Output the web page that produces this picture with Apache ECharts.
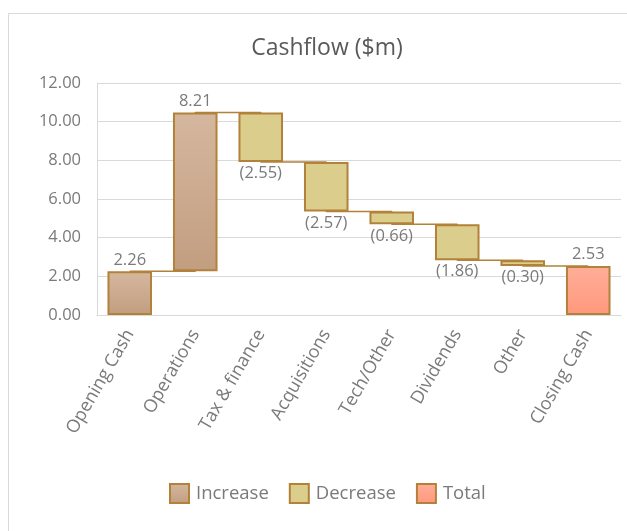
<!DOCTYPE html>
<html>
<head>
<meta charset="utf-8">
<script src="https://cdn.jsdelivr.net/npm/echarts@6/dist/echarts.min.js"></script>
<style>
  html, body { margin: 0; padding: 0; background: #fff; }
  #chart { width: 627px; height: 531px; }
</style>
</head>
<body>
<div id="chart"></div>
<script>
// 瀑布图数据
const categories = ['Opening Cash', 'Operations', 'Tax & finance', 'Acquisitions', 'Tech/Other', 'Dividends', 'Other', 'Closing Cash'];
const changes = [2.26, 8.21, -2.55, -2.57, -0.66, -1.86, -0.30, 2.53];
const kinds = ['increase', 'increase', 'decrease', 'decrease', 'decrease', 'decrease', 'decrease', 'total'];
const yTicks = [0, 2, 4, 6, 8, 10, 12];

// 由变化量算出累计值和透明底座
const running = [];
const baseData = [];
const incData = [];
const decData = [];
const totData = [];
let level = 0;
changes.forEach((v, i) => {
  const k = kinds[i];
  if (k === 'total') {
    baseData.push(0);
    totData.push(v);
    incData.push('-');
    decData.push('-');
    level = v;
  } else if (v >= 0) {
    baseData.push(level);
    incData.push(v);
    decData.push('-');
    totData.push('-');
    level += v;
  } else {
    level += v;
    baseData.push(level);
    decData.push(-v);
    incData.push('-');
    totData.push('-');
  }
  running.push(+level.toFixed(2));
});

const borderCol = '#b3823a';
const txt = '#7a7a7a';
const font = 'Open Sans';

const chart = echarts.init(document.getElementById('chart'));
chart.setOption({
  backgroundColor: '#fff',
  animation: false,
  textStyle: { fontFamily: font },
  graphic: [{
    type: 'rect',
    shape: { x: 8.5, y: 13.5, width: 700, height: 600 },
    style: { fill: 'none', stroke: '#d9d9d9', lineWidth: 1 },
    silent: true
  }],
  title: {
    text: 'Cashflow ($m)',
    left: 322,
    textAlign: 'center',
    top: 32,
    textStyle: { fontFamily: font, fontSize: 23, fontWeight: 'normal', color: '#595959' }
  },
  legend: {
    bottom: 22,
    left: 164,
    icon: 'rect',
    itemWidth: 19,
    itemHeight: 19,
    itemGap: 20,
    data: ['Increase', 'Decrease', 'Total'],
    textStyle: { fontFamily: font, fontSize: 18.5, color: txt, padding: [0, 0, 0, 2] }
  },
  grid: { left: 97, right: 6, top: 83, bottom: 216 },
  xAxis: {
    type: 'category',
    data: categories,
    axisTick: { show: false },
    axisLine: { lineStyle: { color: '#d9d9d9' } },
    axisLabel: {
      rotate: 60,
      margin: 16,
      interval: 0,
      fontFamily: font,
      fontSize: 18,
      color: txt
    }
  },
  yAxis: {
    type: 'value',
    min: 0,
    max: 12,
    interval: 2,
    axisLine: { show: true, lineStyle: { color: '#d9d9d9' } },
    axisTick: { show: false },
    splitLine: { lineStyle: { color: '#d9d9d9', width: 1 } },
    axisLabel: {
      margin: 16,
      fontFamily: font,
      fontSize: 16.5,
      color: txt,
      formatter: v => yTicks.includes(v) ? v.toFixed(2) : ''
    }
  },
  series: [
    {
      // 连接线
      name: 'connector',
      type: 'line',
      step: 'end',
      data: running,
      symbol: 'none',
      z: 1,
      silent: true,
      lineStyle: { color: borderCol, width: 1.5 }
    },
    {
      name: 'base',
      type: 'bar',
      stack: 'wf',
      data: baseData,
      barCategoryGap: '32%',
      z: 2,
      silent: true,
      itemStyle: { color: 'transparent' }
    },
    {
      name: 'Increase',
      type: 'bar',
      stack: 'wf',
      data: incData,
      z: 2,
      itemStyle: {
        color: new echarts.graphic.LinearGradient(0, 0, 0, 1, [
          { offset: 0, color: '#d5b79f' },
          { offset: 1, color: '#c29e80' }
        ]),
        borderColor: borderCol,
        borderWidth: 2
      },
      label: {
        show: true,
        position: 'top',
        distance: 3,
        fontFamily: font,
        fontSize: 16.5,
        color: txt,
        formatter: p => p.value.toFixed(2)
      }
    },
    {
      name: 'Decrease',
      type: 'bar',
      stack: 'wf',
      data: decData,
      z: 2,
      itemStyle: {
        color: '#dbcd8c',
        borderColor: borderCol,
        borderWidth: 2
      },
      label: {
        show: true,
        position: 'bottom',
        distance: 3,
        fontFamily: font,
        fontSize: 16.5,
        color: txt,
        formatter: p => '(' + p.value.toFixed(2) + ')'
      }
    },
    {
      name: 'Total',
      type: 'bar',
      stack: 'wf',
      data: totData,
      z: 2,
      itemStyle: {
        color: new echarts.graphic.LinearGradient(0, 0, 0, 1, [
          { offset: 0, color: '#ffae98' },
          { offset: 1, color: '#ff987d' }
        ]),
        borderColor: borderCol,
        borderWidth: 2
      },
      label: {
        show: true,
        position: 'top',
        distance: 3,
        fontFamily: font,
        fontSize: 16.5,
        color: txt,
        formatter: p => p.value.toFixed(2)
      }
    }
  ]
});
</script>
</body>
</html>
